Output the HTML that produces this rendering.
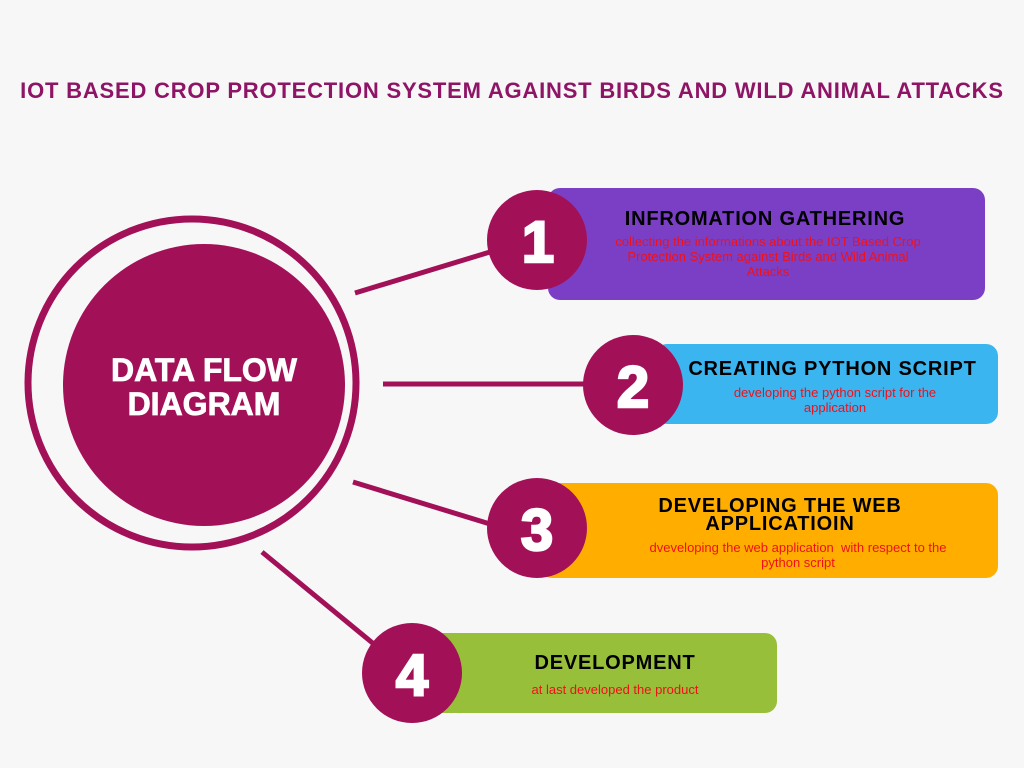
<!DOCTYPE html>
<html><head><style>
body{margin:0;width:1024px;height:768px;background:#f7f7f7;position:relative;overflow:hidden;font-family:"Liberation Sans",sans-serif}
.t{position:absolute;left:0;width:1024px;top:78px;text-align:center;color:#8e1466;font-weight:bold;font-size:22px;letter-spacing:0.8px}
.box{position:absolute;border-radius:12px}
.h{position:absolute;text-align:center;font-weight:bold;color:#000;font-size:20px;line-height:18px;letter-spacing:0.8px}
.s{position:absolute;text-align:center;color:#f0101a;font-size:13px;line-height:15px;white-space:nowrap}
</style></head><body>
<div class="t">IOT BASED CROP PROTECTION SYSTEM AGAINST BIRDS AND WILD ANIMAL ATTACKS</div>
<div class="box" style="left:548px;top:188px;width:437px;height:112px;background:#7b3fc6"></div>
<div class="box" style="left:655px;top:344px;width:343px;height:80px;background:#3bb5ef"></div>
<div class="box" style="left:540px;top:483px;width:458px;height:95px;background:#ffae00"></div>
<div class="box" style="left:430px;top:633px;width:347px;height:80px;background:#98bf3a"></div>
<svg width="1024" height="768" style="position:absolute;left:0;top:0">
<g stroke="#a21158" stroke-width="5">
<line x1="355" y1="293" x2="490" y2="252"/>
<line x1="383" y1="384" x2="585" y2="384"/>
<line x1="353" y1="482" x2="490" y2="524"/>
<line x1="262" y1="552" x2="375" y2="645"/>
</g>
<circle cx="192" cy="383" r="164" fill="none" stroke="#a21158" stroke-width="7"/>
<circle cx="204" cy="385" r="141" fill="#a21158"/>
<g fill="#a21158"><circle cx="537" cy="240" r="50"/><circle cx="633" cy="385" r="50"/><circle cx="537" cy="528" r="50"/><circle cx="412" cy="673" r="50"/></g>
<g fill="#fff" stroke="#fff" stroke-width="2.5" font-family="Liberation Sans" font-weight="bold" font-size="58" text-anchor="middle">
<text x="538" y="262">1</text><text x="633" y="407">2</text><text x="537" y="550">3</text><text x="412" y="695">4</text>
<text x="204" y="381" font-size="32" stroke-width="0.8">DATA FLOW</text><text x="204" y="415" font-size="32" stroke-width="0.8">DIAGRAM</text>
</g>
</svg>
<div class="h" style="left:570px;width:390px;top:210px">INFROMATION GATHERING</div>
<div class="s" style="left:603px;width:330px;top:234px">collecting the informations about the IOT Based Crop<br>Protection System against Birds and Wild Animal<br>Attacks</div>
<div class="h" style="left:670px;width:325px;top:360px">CREATING PYTHON SCRIPT</div>
<div class="s" style="left:720px;width:230px;top:385px">developing the python script for the<br>application</div>
<div class="h" style="left:620px;width:320px;top:497px">DEVELOPING THE WEB APPLICATIOIN</div>
<div class="s" style="left:628px;width:340px;top:540px">dveveloping the web application&nbsp; with respect to the<br>python script</div>
<div class="h" style="left:480px;width:270px;top:654px">DEVELOPMENT</div>
<div class="s" style="left:480px;width:270px;top:682px">at last developed the product</div>
</body></html>
